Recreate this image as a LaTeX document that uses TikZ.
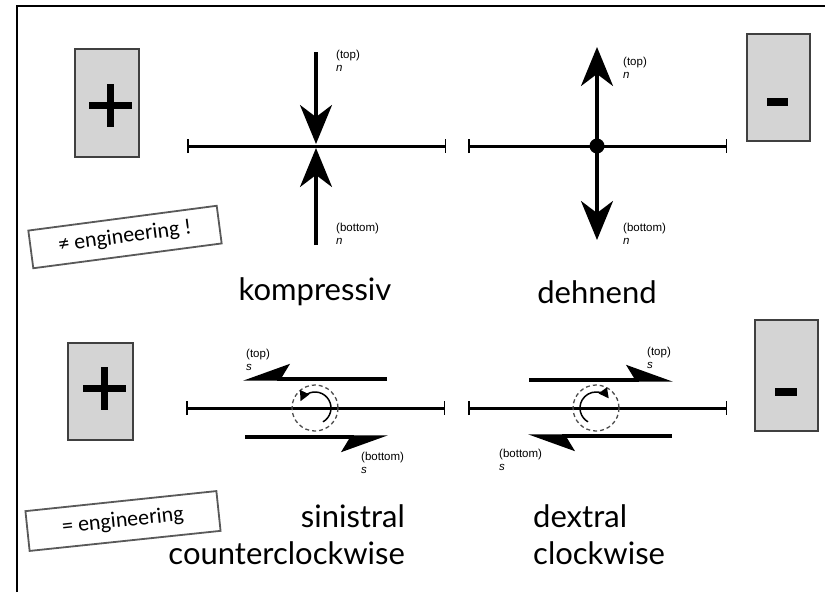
\documentclass[tikz,border=0pt]{standalone}
\usepackage{fontspec}
\setmainfont{Lato}
\newfontfamily\calibrifont{Carlito}
\newfontfamily\helvfont{Liberation Sans}
\usetikzlibrary{arrows.meta,calc}

\begin{document}
\begin{tikzpicture}[x=1pt,y=-1pt,
  signbox/.style={draw=black!75, fill=black!17, line width=1.2pt, inner sep=0pt},
  signbar/.style={fill=black},
  engbox/.style={draw=black!65, fill=white, line width=1.8pt, inner sep=0pt,
    font=\calibrifont\fontsize{22}{24}\selectfont},
  faultline/.style={line width=3pt, {Bar[width=14pt,line width=1.5pt]}-{Bar[width=14pt,line width=1.5pt]}},
  normalarrow/.style={line width=3.4pt, -{Stealth[length=39pt,width=32pt,inset=12pt]}},
  shearleft/.style={line width=3.4pt, -{Stealth[left,length=42pt,width=30pt,inset=9pt]}},
  shearright/.style={line width=3.4pt, -{Stealth[right,length=42pt,width=30pt,inset=9pt]}},
  spin/.style={line width=1.5pt, -{Triangle[length=10pt,width=10pt]}},
  ringdash/.style={draw=black!70, line width=1.3pt, dash pattern=on 4pt off 3pt},
  biglab/.style={font=\fontsize{31}{34}\selectfont, inner sep=0pt},
  smalllab/.style={font=\helvfont\fontsize{11.5}{13}\selectfont, inner sep=0pt, anchor=west},
  smallvar/.style={font=\helvfont\itshape\fontsize{11.5}{13}\selectfont, inner sep=0pt, anchor=west}
]
\useasboundingbox (0,0) rectangle (825,592);

% outer frame
\draw[line width=1.6pt] (17,592) -- (17,6) -- (825,6);

% sign boxes
\node[signbox, minimum width=64pt, minimum height=108pt] (plusTop) at (107,103) {};
\fill[signbar] ($(110.5,105.5)+(-21.5,-3.5)$) rectangle ++(43,7);
\fill[signbar] ($(110.5,105.5)+(-3.5,-21.5)$) rectangle ++(7,43);

\node[signbox, minimum width=63pt, minimum height=107pt] (minusTop) at (778.5,87.5) {};
\fill[signbar] (767,98) rectangle (788,106);

\node[signbox, minimum width=65pt, minimum height=97pt] (plusBot) at (100.5,391.5) {};
\fill[signbar] ($(104.5,388.5)+(-21.5,-3.5)$) rectangle ++(43,7);
\fill[signbar] ($(104.5,388.5)+(-3.5,-21.5)$) rectangle ++(7,43);

\node[signbox, minimum width=63pt, minimum height=111pt] (minusBot) at (786.5,375.5) {};
\fill[signbar] (775,388) rectangle (797,396);

% engineering notes
\node[engbox, rotate=7.5, minimum width=190pt, minimum height=38pt] (neq) at (125,237) {≠ engineering !};
\node[engbox, rotate=6, minimum width=192pt, minimum height=40pt] (eq) at (123,521) {= engineering};

% ---- kompressiv ----
\coordinate (kL) at (187,146);
\coordinate (kR) at (446,146);
\coordinate (kC) at (316,146);
\coordinate (kTop) at (316,52);
\coordinate (kBot) at (316,245);
\draw[faultline] (kL) -- (kR);
\draw[normalarrow] (kTop) -- ($(kC)+(0,-2)$);
\draw[normalarrow] (kBot) -- ($(kC)+(0,2)$);
\node[smalllab] (kTopT) at (336,56) {(top)};
\node[smallvar] (kTopN) at (336,68) {n};
\node[smalllab] (kBotT) at (336,229) {(bottom)};
\node[smallvar] (kBotN) at (336,241) {n};
\node[biglab] (komp) at (315,292) {kompressiv};

% ---- dehnend ----
\coordinate (dL) at (468,146);
\coordinate (dR) at (727,146);
\coordinate (dC) at (597,146);
\draw[faultline] (dL) -- (dR);
\coordinate (dTop) at (597,47);
\coordinate (dBot) at (597,240);
\draw[normalarrow] (dC) -- (dTop);
\draw[normalarrow] (dC) -- (dBot);
\fill (dC) circle[radius=7.5];
\node[smalllab] (dTopT) at (623,63) {(top)};
\node[smallvar] (dTopN) at (623,75) {n};
\node[smalllab] (dBotT) at (623,229) {(bottom)};
\node[smallvar] (dBotN) at (623,241) {n};
\node[biglab] (dehn) at (597,292) {dehnend};

% ---- sinistral ----
\coordinate (sL) at (186,408);
\coordinate (sR) at (445,408);
\coordinate (sC) at (315,408);
\draw[faultline] (sL) -- (sR);
\coordinate (sTopA) at (387,379);
\coordinate (sTopB) at (243,379);
\coordinate (sBotA) at (245,437);
\coordinate (sBotB) at (388,437);
\draw[shearright] (sTopA) -- (sTopB);
\draw[shearright] (sBotA) -- (sBotB);
\draw[ringdash] (sC) circle[radius=23];
\draw[spin] ($(sC)+(60:16)$) arc[start angle=60, end angle=-155, radius=16];
\node[smalllab] (sTopT) at (246,355) {(top)};
\node[smallvar] (sTopN) at (246,367) {s};
\node[smalllab] (sBotT) at (361,458) {(bottom)};
\node[smallvar] (sBotN) at (361,470) {s};
\node[biglab, anchor=east] (sini) at (405,516) {sinistral};
\node[biglab, anchor=east] (ccw) at (405,553) {counterclockwise};

% ---- dextral ----
\coordinate (xL) at (468,408);
\coordinate (xR) at (727,408);
\coordinate (xC) at (596,408);
\draw[faultline] (xL) -- (xR);
\coordinate (xTopA) at (529,380);
\coordinate (xTopB) at (673,380);
\coordinate (xBotA) at (672,436);
\coordinate (xBotB) at (528,436);
\draw[shearleft] (xTopA) -- (xTopB);
\draw[shearleft] (xBotA) -- (xBotB);
\draw[ringdash] (xC) circle[radius=23];
\draw[spin] ($(xC)+(120:16)$) arc[start angle=120, end angle=323, radius=16];
\node[smalllab] (xTopT) at (647,353) {(top)};
\node[smallvar] (xTopN) at (647,365) {s};
\node[smalllab] (xBotT) at (499,455) {(bottom)};
\node[smallvar] (xBotN) at (499,467) {s};
\node[biglab, anchor=west] (dext) at (533,516) {dextral};
\node[biglab, anchor=west] (cw) at (533,553) {clockwise};
\end{tikzpicture}
\end{document}
